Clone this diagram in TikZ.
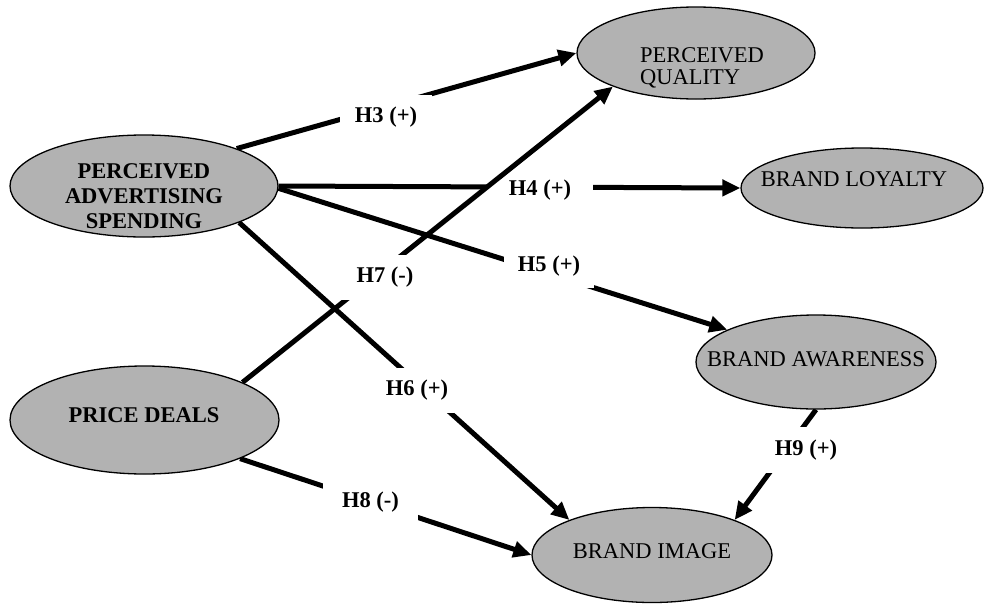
\documentclass[tikz,border=0pt]{standalone}
\usepackage{fontspec}
\setmainfont{Liberation Serif}
\usetikzlibrary{arrows.meta,backgrounds,shapes.geometric}
\begin{document}
\begin{tikzpicture}[x=1pt,y=-1pt,
  construct/.style={ellipse, draw=black, line width=1.3pt, fill=black!30, inner sep=0pt},
  ctext/.style={font=\fontsize{22.5}{22}\selectfont, inner sep=0pt},
  btext/.style={font=\fontsize{22.5}{25}\selectfont\bfseries, inner sep=0pt},
  conn/.style={line width=5pt, -{Triangle[length=18pt,width=16pt]}},
  hyp/.style={fill=white, font=\fontsize{22.5}{24}\selectfont\bfseries, inner sep=0pt, minimum height=44pt}
]
\useasboundingbox (0,0) rectangle (985,603);

% constructs
\node[construct, minimum width=268pt, minimum height=102pt] (pas) at (144,186) {};
\node[construct, minimum width=238pt, minimum height=92pt] (pq) at (696,53) {};
\node[construct, minimum width=242pt, minimum height=80pt] (bl) at (862,188) {};
\node[construct, minimum width=240pt, minimum height=94pt] (ba) at (816,362) {};
\node[construct, minimum width=240pt, minimum height=95pt] (bi) at (652,555) {};
\node[construct, minimum width=269pt, minimum height=108pt] (pd) at (144.5,420) {};

% construct texts
\node[btext, align=center, anchor=base] (past) at (144,228) {PERCEIVED\\ADVERTISING\\SPENDING};
\node[ctext, align=left, anchor=base west] (pqt) at (640,84) {PERCEIVED\\QUALITY};
\node[ctext, anchor=base] (blt) at (854,186) {BRAND LOYALTY};
\node[ctext, anchor=base] (bat) at (816,366) {BRAND AWARENESS};
\node[ctext, anchor=base] (bit) at (652,558) {BRAND IMAGE};
\node[btext, anchor=base] (pdt) at (144,422) {PRICE DEALS};

% connectors and hypothesis labels
\begin{scope}[on background layer]
\draw[conn] (pas.22) -- (pq.180);
\node[hyp, minimum width=92pt] (h3) at (386,117) {H3 (+)};
\draw[conn] (pas.0) -- (bl.180);
\node[hyp, minimum width=105pt] (h4) at (540,190) {H4 (+)};
\draw[conn] (pas.359) -- (ba.160);
\node[hyp, minimum width=90pt] (h5) at (549,266) {H5 (+)};
\draw[conn] (pas.339) -- (bi.157);
\node[hyp, minimum width=90pt, minimum height=45pt] (h6) at (417,390.5) {H6 (+)};
\draw[conn] (pd.338.3) -- (bi.180);
\node[hyp, minimum width=95pt] (h8) at (370.5,502) {H8 (-)};
\draw[conn] (ba.270) -- (bi.23.5);
\node[hyp, minimum width=90pt, minimum height=46pt] (h9) at (806,450) {H9 (+)};
\draw[conn] (pd.21.7) -- (pq.202.6);
\node[hyp, minimum width=90pt, minimum height=45pt] (h7) at (385,277.5) {H7 (-)};
\end{scope}
\end{tikzpicture}
\end{document}
